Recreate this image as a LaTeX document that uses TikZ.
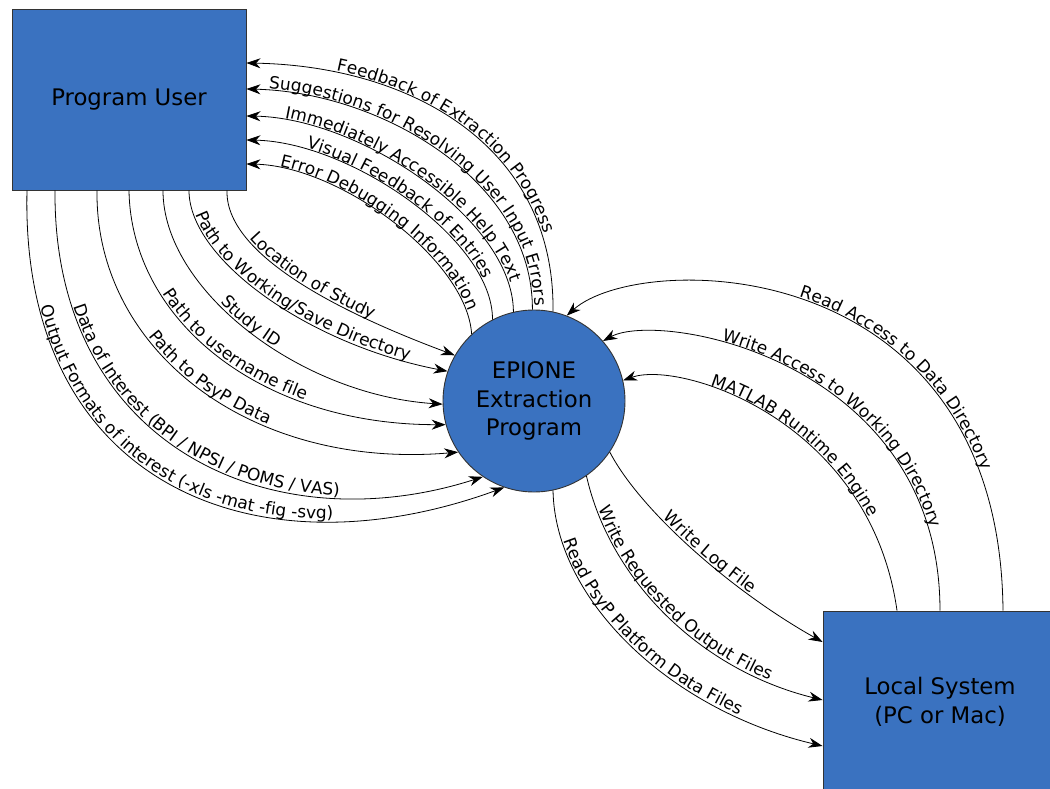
\documentclass[tikz,border=0pt]{standalone}
\usepackage{fontspec}
\setmainfont{DejaVu Sans}
\usetikzlibrary{arrows.meta,decorations.text,calc}
\definecolor{boxblue}{RGB}{58,114,192}
\newcommand\lblfont{\fontsize{17}{20}\selectfont}
\begin{document}
\begin{tikzpicture}[x=1pt,y=-1pt,
  entity/.style={draw=black!80, line width=0.9pt, fill=boxblue, font=\fontsize{22.8}{28.5}\selectfont, align=center, inner sep=0pt},
  flow/.style={draw, line width=0.8pt},
  tipE/.style={-{Stealth[length=14pt,width=10pt,inset=4.5pt]}},
  tipS/.style={{Stealth[length=14pt,width=10pt,inset=4.5pt]}-},
  lab/.style 2 args={postaction={decorate,decoration={text along path, text={|\lblfont|#2}, text align={left, left indent=#1}, raise=2pt}}}
]
\useasboundingbox (0,0) rectangle (1050,789);
\fill[white] (0,0) rectangle (1050,789);
\clip (0,0) rectangle (1050,789);

\node[entity, minimum width=234pt, minimum height=181pt] (pu) at (129,99.5) {Program User};
\node[entity, circle, minimum size=182pt] (ep) at (534,401) {EPIONE\\Extraction\\Program};
\node[entity, minimum width=234pt, minimum height=182pt] (ls) at (940,702) {Local System\\(PC or Mac)};

% program -> user (feedback)
\draw[flow,tipS,lab={90pt}{Feedback of Extraction Progress}] (pu.east |- 0,63) .. controls (410,66) and (555,145) .. (ep.78);
\draw[flow,tipS,lab={22pt}{Suggestions for Resolving User Input Errors}] (pu.east |- 0,89) .. controls (380,92) and (533,180) .. (ep.91);
\draw[flow,tipS,lab={38pt}{Immediately Accessible Help Text}] (pu.east |- 0,116) .. controls (360,118) and (513,220) .. (ep.103);
\draw[flow,tipS,lab={60pt}{Visual Feedback of Entries}] (pu.east |- 0,140) .. controls (350,142) and (493,240) .. (ep.117);
\draw[flow,tipS,lab={33pt}{Error Debugging Information}] (pu.east |- 0,164) .. controls (340,166) and (467,260) .. (ep.133);

% user -> program (inputs)
\draw[flow,tipE,lab={55pt}{Location of Study}] (pu.south -| 227,0) .. controls (225,260) and (360,320) .. (ep.150);
\draw[flow,tipE,lab={25pt}{Path to Working/Save Directory}] (pu.south -| 189,0) .. controls (189,260) and (310,345) .. (ep.161);
\draw[flow,tipE,lab={130pt}{Study ID}] (pu.south -| 163,0) .. controls (163,290) and (300,395) .. (ep.182);
\draw[flow,tipE,lab={110pt}{Path to username file}] (pu.south -| 129,0) .. controls (131,320) and (260,425) .. (ep.195);
\draw[flow,tipE,lab={158pt}{Path to PsyP Data}] (pu.south -| 97,0) .. controls (95,350) and (250,470) .. (ep.214);
\draw[flow,tipE,lab={118pt}{Data of Interest (BPI / NPSI / POMS / VAS)}] (pu.south -| 55,0) .. controls (53,445) and (270,545) .. (ep.236);
\draw[flow,tipE,lab={118pt}{Output Formats of interest (-xls -mat -fig -svg)}] (pu.south -| 27,0) .. controls (20,480) and (250,580) .. (ep.251);

% local system -> program
\draw[flow,tipS,lab={240pt}{Read Access to Data Directory}] (ep.69) .. controls (640,250) and (1000,250) .. (ls.north -| 1003,0);
\draw[flow,tipS,lab={120pt}{Write Access to Working Directory}] (ep.41.5) .. controls (660,310) and (940,360) .. (ls.north -| 940,0);
\draw[flow,tipS,lab={88pt}{MATLAB Runtime Engine}] (ep.13) .. controls (680,360) and (870,420) .. (ls.north -| 897,0);

% program -> local system
\draw[flow,tipE,lab={85pt}{Write Log File}] (ep.326) .. controls (640,510) and (730,590) .. (ls.west |- 0,642);
\draw[flow,tipE,lab={35pt}{Write Requested Output Files}] (ep.305) .. controls (610,580) and (700,670) .. (ls.west |- 0,700);
\draw[flow,tipE,lab={52pt}{Read PsyP Platform Data Files}] (ep.282) .. controls (555,600) and (670,710) .. (ls.west |- 0,746);
\end{tikzpicture}
\end{document}
